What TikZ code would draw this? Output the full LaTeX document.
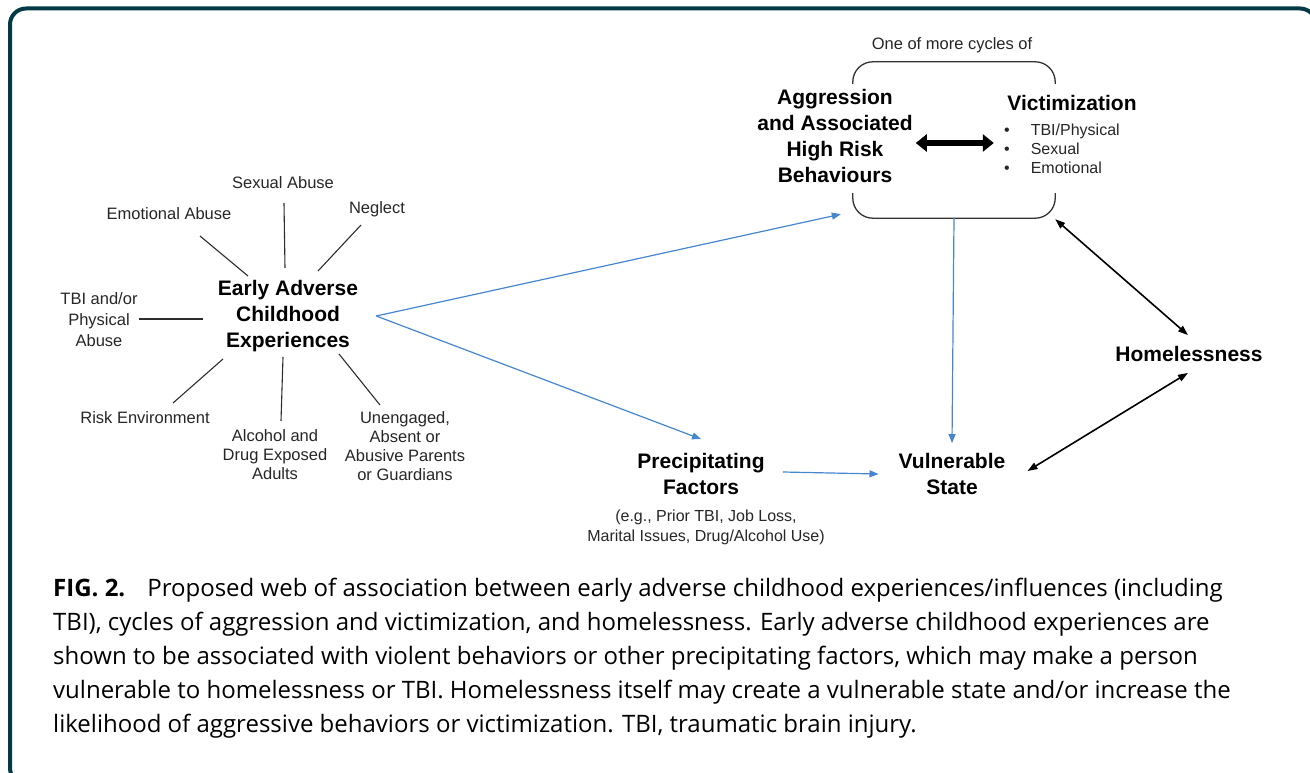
\documentclass[tikz,border=0pt]{standalone}
\usepackage{fontspec}
\setmainfont{Liberation Sans}
\newfontfamily\capfont{Open Sans}
\usetikzlibrary{arrows.meta}
\definecolor{bordercol}{RGB}{4,58,70}
\definecolor{arrowblue}{RGB}{70,134,208}
\definecolor{spokegray}{RGB}{45,45,45}
\tikzset{
  lab/.style={font=\fontsize{16.5}{19}\selectfont, align=center, inner sep=0pt, text=black!85},
  smalllab/.style={font=\fontsize{16}{20}\selectfont, align=center, inner sep=0pt, text=black!85},
  boldlab/.style={font=\fontsize{21}{26}\selectfont\bfseries, align=center, inner sep=0pt},
  spoke/.style={draw=spokegray, line width=1.1pt},
  bluearrow/.style={draw=arrowblue, line width=1.2pt, -{Triangle[length=9pt,width=7pt]}},
  blackarrow/.style={draw=black, line width=1.6pt, {Triangle[length=10pt,width=7pt]}-{Triangle[length=10pt,width=7pt]}},
  thickarrow/.style={draw=black, line width=6pt, {Triangle[length=11pt,width=17pt]}-{Triangle[length=11pt,width=17pt]}},
  bracket/.style={draw=black!80, line width=1.3pt, rounded corners=20pt},
}
\begin{document}
\begin{tikzpicture}[x=1pt,y=-1pt]
\useasboundingbox (0,0) rectangle (1310,773);
\begin{scope}
  \clip (0,0) rectangle (1310,773);
  \draw[bordercol, line width=4pt, rounded corners=16pt] (10,8.5) rectangle (1316,784);
\end{scope}

% left cluster
\node[boldlab] (ace) at (288,316) {Early Adverse\\Childhood\\Experiences};
\node[lab] (sex) at (283,183) {Sexual Abuse};
\node[lab] (emo) at (169,214) {Emotional Abuse};
\node[lab] (neg) at (377,209) {Neglect};
\node[lab, font=\fontsize{16.5}{21}\selectfont] (tbi) at (99,320) {TBI and/or\\Physical\\Abuse};
\node[lab] (risk) at (145,418) {Risk Environment};
\node[lab] (alc) at (275,455) {Alcohol and\\Drug Exposed\\Adults};
\node[lab] (une) at (405,446) {Unengaged,\\Absent or\\Abusive Parents\\or Guardians};

\draw[spoke] ([shift={(31,22)}]emo.center) -- ([shift={(-40,-40)}]ace.center);
\draw[spoke] ([shift={(1,20)}]sex.center) -- ([shift={(-3,-48)}]ace.center);
\draw[spoke] ([shift={(-16,16)}]neg.center) -- ([shift={(30,-45)}]ace.center);
\draw[spoke] ([shift={(40,-1)}]tbi.center) -- ([shift={(-85,3)}]ace.center);
\draw[spoke] ([shift={(28,-15)}]risk.center) -- ([shift={(-65,43)}]ace.center);
\draw[spoke] ([shift={(6,-34)}]alc.center) -- ([shift={(-5,41)}]ace.center);
\draw[spoke] ([shift={(-25,-41)}]une.center) -- ([shift={(51,38)}]ace.center);

% cycle box
\node[lab] (one) at (952,45) {One of more cycles of};
\node[minimum width=202pt, minimum height=156pt, inner sep=0pt] (cyc) at (954,140) {};
\draw[bracket] ([shift={(0,22)}]cyc.north west) -- (cyc.north west) -- (cyc.north east) -- ([shift={(0,22)}]cyc.north east);
\draw[bracket] ([shift={(0,-25)}]cyc.south west) -- (cyc.south west) -- (cyc.south east) -- ([shift={(0,-25)}]cyc.south east);

\node[boldlab, font=\fontsize{21}{25.7}\selectfont\bfseries] (agg) at (835,136) {Aggression\\and Associated\\High Risk\\Behaviours};
\node[boldlab] (vic) at (1072,103) {Victimization};
\node[anchor=base west, inner sep=0pt, font=\fontsize{16}{19}\selectfont, text=black!85] (viclist) at (1004,135.5)
  {\begin{tabular}[t]{@{}l@{\hspace{21pt}}l@{}}\textbullet & TBI/Physical\\ \textbullet & Sexual\\ \textbullet & Emotional\end{tabular}};
\draw[thickarrow] ([shift={(3,7)}]agg.east) -- ++(78,0);

% lower nodes
\node[boldlab] (prec) at (701,474) {Precipitating\\Factors};
\node[smalllab] (eg) at (706,527) {(e.g., Prior TBI, Job Loss,\\Marital Issues, Drug/Alcohol Use)};
\node[boldlab] (vul) at (952,474) {Vulnerable\\State};
\node[boldlab] (home) at (1189,354) {Homelessness};

% connectors
\coordinate (fork) at ([shift={(18,0)}]ace.east);
\draw[bluearrow] (fork) -- ([shift={(-12,-4)}]cyc.south west);
\draw[bluearrow] (fork) -- ([shift={(0,-14)}]prec.north);
\draw[bluearrow] (cyc.south) -- ([shift={(0,-10)}]vul.north);
\draw[bluearrow] ([shift={(18,-2)}]prec.east) -- ([shift={(-20,0)}]vul.west);
\draw[blackarrow] ([shift={(22,-3)}]vul.east) -- ([shift={(-1,11)}]home.south);
\draw[blackarrow] ([shift={(0,1)}]cyc.south east) -- ([shift={(-1,-11)}]home.north);

% caption
\node[anchor=base west, inner sep=0pt, align=left, font=\capfont\fontsize{24}{34}\selectfont] (cap) at (53,732)
{\textbf{FIG. 2.}\hspace{22pt}Proposed web of association between early adverse childhood experiences/influences (including\\
TBI), cycles of aggression and victimization, and homelessness. Early adverse childhood experiences are\\
shown to be associated with violent behaviors or other precipitating factors, which may make a person\\
vulnerable to homelessness or TBI. Homelessness itself may create a vulnerable state and/or increase the\\
likelihood of aggressive behaviors or victimization. TBI, traumatic brain injury.};
\end{tikzpicture}
\end{document}
